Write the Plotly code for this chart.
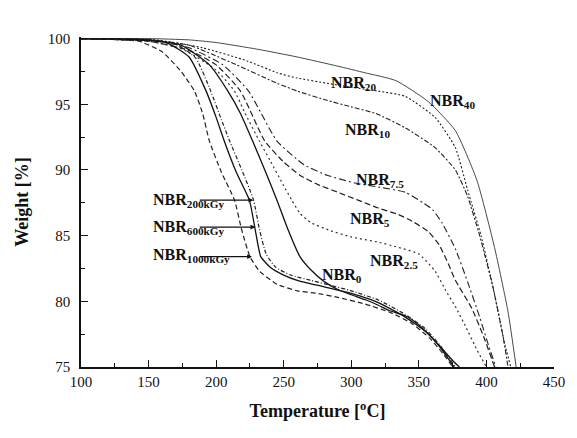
import plotly.graph_objects as go

# ---------------- data ----------------
x_nbr0 = [100, 150, 174, 195, 208.7, 218, 227, 236, 245, 253, 262, 270, 280, 290, 300, 311, 320, 328, 340, 350, 360, 368, 375, 380]
y_nbr0 = [100, 99.9, 99.5, 98.0, 96.0, 94.3, 92.2, 90.0, 87.7, 85.5, 83.4, 82.4, 81.5, 80.9, 80.5, 80.1, 79.7, 79.3, 78.9, 78.2, 77.2, 76.3, 75.5, 75.0]

x_nbr25 = [100, 150, 175, 200, 213.6, 221, 232, 240, 250, 256, 262, 270, 284, 300, 320, 335, 350, 362, 370, 377, 385, 393, 400]
y_nbr25 = [100, 99.8, 99.2, 97.6, 96.0, 94.4, 92.2, 90.7, 88.8, 87.7, 86.7, 86.0, 85.4, 84.9, 84.5, 84.1, 83.6, 82.3, 80.8, 79.6, 78.0, 76.3, 75.0]

x_nbr5 = [100, 150, 180, 200, 218, 236, 250, 262, 275, 290, 305, 320, 335, 345, 357, 365, 372, 377, 389, 398, 406]
y_nbr5 = [100, 99.8, 99.1, 98.0, 96.0, 92.2, 90.6, 89.6, 88.9, 88.3, 87.7, 87.1, 86.6, 86.1, 85.3, 84.3, 82.8, 81.6, 79.5, 77.3, 75.0]

x_nbr75 = [100, 150, 180, 205, 224, 245, 265, 282, 303, 320, 340, 353, 360, 367, 377, 386, 395, 402, 407]
y_nbr75 = [100, 99.9, 99.3, 98.0, 96.0, 92.2, 90.4, 89.6, 89.0, 88.7, 88.3, 87.5, 87.0, 86.0, 84.0, 81.5, 78.8, 76.5, 75.0]

x_nbr10 = [100, 150, 180, 215, 245, 260, 282, 300, 318, 340, 362, 377, 386, 395, 405, 412, 416]
y_nbr10 = [100, 99.9, 99.5, 98.0, 96.6, 96.0, 95.3, 94.8, 94.3, 93.2, 91.7, 90.0, 88.0, 85.0, 81.0, 77.5, 75.0]

x_nbr20 = [100, 155, 190, 223, 245, 260, 282, 300, 320, 340, 362, 377, 386, 396, 405, 413, 418]
y_nbr20 = [100, 99.9, 99.3, 98.3, 97.4, 97.0, 96.6, 96.3, 96.0, 95.6, 94.0, 91.7, 88.5, 85.0, 81.0, 77.0, 75.0]

x_nbr40 = [100, 150, 180, 200, 230, 260, 290, 310, 333, 357, 377, 393, 406, 416, 422]
y_nbr40 = [100, 100, 99.9, 99.7, 99.2, 98.6, 97.9, 97.4, 96.8, 95.2, 93.0, 89.2, 84.1, 79.2, 75.0]

x_200k = [100, 150, 170, 185, 196, 204, 210, 219, 227.7, 232, 237, 244, 255, 270, 285, 300, 320, 340, 355, 366, 373, 377]
y_200k = [100, 99.9, 99.6, 98.5, 96.0, 93.8, 92.2, 90.0, 87.7, 85.5, 83.6, 82.6, 82.0, 81.6, 81.2, 80.8, 80.1, 79.0, 77.9, 76.6, 75.6, 75.0]

x_600k = [100, 140, 163, 180, 192.6, 200, 206, 215, 224.6, 229, 233, 240, 250, 260, 280, 300, 320, 340, 355, 365, 372, 376]
y_600k = [100, 99.9, 99.7, 98.6, 96.0, 94.0, 92.2, 89.8, 87.7, 85.4, 83.4, 82.6, 82.0, 81.6, 81.1, 80.6, 79.9, 78.8, 77.7, 76.6, 75.6, 75.0]

x_1000k = [100, 130, 143, 160, 174, 184, 190, 195, 204, 213.6, 219, 225, 232, 245, 260, 275, 290, 310, 330, 345, 358, 368, 375]
y_1000k = [100, 99.9, 99.8, 99.0, 97.5, 96.0, 94.3, 92.2, 89.8, 87.7, 85.4, 83.4, 82.3, 81.3, 80.8, 80.6, 80.3, 79.8, 79.1, 78.3, 77.2, 76.0, 75.0]

x_ticks = [100, 150, 200, 250, 300, 350, 400, 450]
y_ticks = [75, 80, 85, 90, 95, 100]

label_names = ["20", "40", "10", "7.5", "5", "2.5", "0", "200kGy", "600kGy", "1000kGy"]
label_x = [283.3, 356.4, 294.2, 302.3, 297.9, 312.5, 276.5, 151.6, 151.6, 151.6]
label_y = [96.6, 95.2, 93.0, 89.2, 86.2, 83.0, 82.0, 87.7, 85.6, 83.5]

arrow_from_x = [186.8, 186.8, 186.8]
arrow_to_x = [227.5, 229.0, 226.5]
arrow_y = [87.7, 85.65, 83.4]

# ---------------- figure ----------------
series = [
    (x_nbr40, y_nbr40, "NBR40", dict(color="#333", width=0.9, dash="solid")),
    (x_nbr20, y_nbr20, "NBR20", dict(color="#222", width=1.1, dash="2px,2px")),
    (x_nbr10, y_nbr10, "NBR10", dict(color="#222", width=1.1, dash="5px,2px,2px,2px")),
    (x_nbr75, y_nbr75, "NBR7.5", dict(color="#222", width=1.1, dash="7px,3px,2px,3px")),
    (x_nbr5, y_nbr5, "NBR5", dict(color="#222", width=1.2, dash="6px,3px")),
    (x_nbr25, y_nbr25, "NBR2.5", dict(color="#333", width=1.2, dash="2px,3px")),
    (x_nbr0, y_nbr0, "NBR0", dict(color="#111", width=1.3, dash="solid")),
    (x_200k, y_200k, "NBR200kGy", dict(color="#222", width=1.2, dash="4px,2px,1px,2px")),
    (x_600k, y_600k, "NBR600kGy", dict(color="#111", width=1.3, dash="solid")),
    (x_1000k, y_1000k, "NBR1000kGy", dict(color="#222", width=1.2, dash="5px,3px")),
]

fig = go.Figure()
for xs, ys, nm, ln in series:
    fig.add_trace(go.Scatter(x=xs, y=ys, mode="lines", name=nm, line=dict(shape="spline", smoothing=0.5, **ln),
                             showlegend=False, hoverinfo="skip"))

for nm, lx, ly in zip(label_names, label_x, label_y):
    fig.add_annotation(x=lx, y=ly, xref="x", yref="y", showarrow=False, xanchor="left", yanchor="middle",
                       text=f"<b>NBR<sub>{nm}</sub></b>",
                       font=dict(family="Liberation Serif", size=16, color="#111"))

for fx, tx, ay in zip(arrow_from_x, arrow_to_x, arrow_y):
    fig.add_annotation(x=tx, y=ay, ax=fx, ay=ay, xref="x", yref="y", axref="x", ayref="y",
                       text="", showarrow=True, arrowhead=2, arrowsize=0.8, arrowwidth=1.2, arrowcolor="#111")

axis_font = dict(family="Liberation Serif", size=15, color="#111")
fig.update_xaxes(range=[100, 450], tickvals=x_ticks, ticktext=[str(v) for v in x_ticks],
                 ticks="inside", ticklen=7, tickwidth=1.2, tickcolor="#111",
                 minor=dict(ticks="inside", ticklen=4, dtick=25, tickcolor="#111"),
                 showline=True, linecolor="#111", linewidth=1.5, showgrid=False, zeroline=False,
                 tickfont=axis_font,
                 title=dict(text="<b>Temperature [<sup>o</sup>C]</b>", font=dict(family="Liberation Serif", size=18, color="#111"), standoff=16))
fig.update_yaxes(range=[75, 100.12], tickvals=y_ticks, ticktext=[str(v) for v in y_ticks],
                 ticks="inside", ticklen=7, tickwidth=1.2, tickcolor="#111",
                 minor=dict(ticks="inside", ticklen=4, dtick=2.5, tickcolor="#111"),
                 showline=True, linecolor="#111", linewidth=1.5, showgrid=False, zeroline=False,
                 tickfont=axis_font, ticklabelstandoff=6,
                 title=dict(text="<b>Weight [%]</b>", font=dict(family="Liberation Serif", size=18, color="#111"), standoff=14))

fig.update_layout(width=577, height=438, margin=dict(l=81, r=17, t=37, b=71),
                  paper_bgcolor="white", plot_bgcolor="white")

fig.write_html("out.html")
